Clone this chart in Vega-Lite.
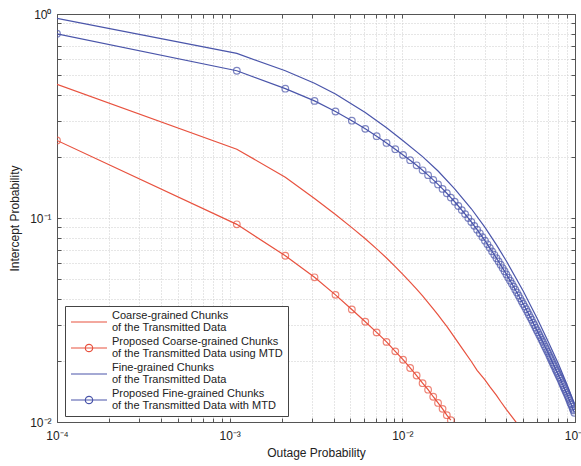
{
  "$schema": "https://vega.github.io/schema/vega-lite/v6.json",
  "width": 518,
  "height": 408,
  "autosize": {"type": "none"},
  "padding": {"left": 57, "top": 14, "right": 6, "bottom": 44},
  "background": "white",
  "config": {
    "font": "Liberation Sans",
    "view": {"stroke": null},
    "axis": {
      "domainColor": "#555555",
      "tickColor": "#555555",
      "labelColor": "#222222",
      "titleColor": "#222222",
      "labelFontSize": 12,
      "titleFontSize": 12,
      "titleFontWeight": "normal",
      "gridColor": "#cccccc",
      "gridDash": [1, 2],
      "gridWidth": 1,
      "labelOverlap": false,
      "labelFlush": false
    }
  },
  "data": {
    "values": [
      {"s": "A", "x": 0.0001, "y": 0.452},
      {"s": "A", "x": 0.0011, "y": 0.2173},
      {"s": "A", "x": 0.0021, "y": 0.1585},
      {"s": "A", "x": 0.0031, "y": 0.1245},
      {"s": "A", "x": 0.0041, "y": 0.104},
      {"s": "A", "x": 0.0051, "y": 0.0897},
      {"s": "A", "x": 0.0061, "y": 0.0791},
      {"s": "A", "x": 0.0071, "y": 0.0706},
      {"s": "A", "x": 0.0081, "y": 0.0637},
      {"s": "A", "x": 0.0091, "y": 0.0578},
      {"s": "A", "x": 0.0101, "y": 0.0528},
      {"s": "A", "x": 0.0111, "y": 0.0485},
      {"s": "A", "x": 0.0121, "y": 0.0448},
      {"s": "A", "x": 0.0131, "y": 0.0415},
      {"s": "A", "x": 0.0141, "y": 0.0385},
      {"s": "A", "x": 0.0151, "y": 0.0359},
      {"s": "A", "x": 0.0161, "y": 0.0335},
      {"s": "A", "x": 0.0171, "y": 0.0313},
      {"s": "A", "x": 0.0181, "y": 0.0294},
      {"s": "A", "x": 0.0191, "y": 0.0276},
      {"s": "A", "x": 0.0201, "y": 0.0259},
      {"s": "A", "x": 0.0221, "y": 0.0231},
      {"s": "A", "x": 0.0251, "y": 0.0198},
      {"s": "A", "x": 0.0271, "y": 0.0179},
      {"s": "A", "x": 0.0301, "y": 0.0161},
      {"s": "A", "x": 0.0321, "y": 0.0149},
      {"s": "A", "x": 0.0351, "y": 0.0135},
      {"s": "A", "x": 0.0371, "y": 0.0126},
      {"s": "A", "x": 0.0401, "y": 0.0115},
      {"s": "A", "x": 0.0421, "y": 0.0109},
      {"s": "A", "x": 0.0451, "y": 0.0101},
      {"s": "A", "x": 0.0461, "y": 0.00984},
      {"s": "B", "x": 0.0001, "y": 0.24},
      {"s": "B", "x": 0.0011, "y": 0.0931},
      {"s": "B", "x": 0.0021, "y": 0.0653},
      {"s": "B", "x": 0.0031, "y": 0.0512},
      {"s": "B", "x": 0.0041, "y": 0.042},
      {"s": "B", "x": 0.0051, "y": 0.0356},
      {"s": "B", "x": 0.0061, "y": 0.031},
      {"s": "B", "x": 0.0071, "y": 0.0275},
      {"s": "B", "x": 0.0081, "y": 0.0247},
      {"s": "B", "x": 0.0091, "y": 0.0222},
      {"s": "B", "x": 0.0101, "y": 0.0202},
      {"s": "B", "x": 0.0111, "y": 0.0184},
      {"s": "B", "x": 0.0121, "y": 0.0169},
      {"s": "B", "x": 0.0131, "y": 0.0155},
      {"s": "B", "x": 0.0141, "y": 0.0144},
      {"s": "B", "x": 0.0151, "y": 0.0133},
      {"s": "B", "x": 0.0161, "y": 0.0124},
      {"s": "B", "x": 0.0171, "y": 0.0116},
      {"s": "B", "x": 0.0181, "y": 0.0108},
      {"s": "B", "x": 0.0191, "y": 0.0102},
      {"s": "C", "x": 0.0001, "y": 0.951},
      {"s": "C", "x": 0.0011, "y": 0.641},
      {"s": "C", "x": 0.0021, "y": 0.527},
      {"s": "C", "x": 0.0031, "y": 0.458},
      {"s": "C", "x": 0.0041, "y": 0.405},
      {"s": "C", "x": 0.0061, "y": 0.329},
      {"s": "C", "x": 0.0081, "y": 0.277},
      {"s": "C", "x": 0.0101, "y": 0.239},
      {"s": "C", "x": 0.0131, "y": 0.2},
      {"s": "C", "x": 0.0161, "y": 0.17},
      {"s": "C", "x": 0.0201, "y": 0.139},
      {"s": "C", "x": 0.0251, "y": 0.111},
      {"s": "C", "x": 0.0301, "y": 0.0899},
      {"s": "C", "x": 0.0351, "y": 0.0738},
      {"s": "C", "x": 0.0401, "y": 0.0614},
      {"s": "C", "x": 0.0501, "y": 0.0439},
      {"s": "C", "x": 0.0601, "y": 0.0324},
      {"s": "C", "x": 0.0701, "y": 0.0247},
      {"s": "C", "x": 0.0801, "y": 0.0193},
      {"s": "C", "x": 0.0901, "y": 0.0152},
      {"s": "C", "x": 0.0951, "y": 0.0135},
      {"s": "C", "x": 0.0991, "y": 0.0123},
      {"s": "D", "x": 0.0001, "y": 0.8},
      {"s": "D", "x": 0.0011, "y": 0.527},
      {"s": "D", "x": 0.0021, "y": 0.4305},
      {"s": "D", "x": 0.0031, "y": 0.375},
      {"s": "D", "x": 0.0041, "y": 0.3327},
      {"s": "D", "x": 0.0051, "y": 0.2999},
      {"s": "D", "x": 0.0061, "y": 0.2735},
      {"s": "D", "x": 0.0071, "y": 0.2518},
      {"s": "D", "x": 0.0081, "y": 0.2333},
      {"s": "D", "x": 0.0091, "y": 0.2175},
      {"s": "D", "x": 0.0101, "y": 0.2038},
      {"s": "D", "x": 0.0111, "y": 0.192},
      {"s": "D", "x": 0.0121, "y": 0.1812},
      {"s": "D", "x": 0.0131, "y": 0.1713},
      {"s": "D", "x": 0.0141, "y": 0.1622},
      {"s": "D", "x": 0.0151, "y": 0.1538},
      {"s": "D", "x": 0.0161, "y": 0.1461},
      {"s": "D", "x": 0.0171, "y": 0.1389},
      {"s": "D", "x": 0.0181, "y": 0.1322},
      {"s": "D", "x": 0.0191, "y": 0.1259},
      {"s": "D", "x": 0.0201, "y": 0.1201},
      {"s": "D", "x": 0.0211, "y": 0.1145},
      {"s": "D", "x": 0.0221, "y": 0.1093},
      {"s": "D", "x": 0.0231, "y": 0.1045},
      {"s": "D", "x": 0.0241, "y": 0.0999},
      {"s": "D", "x": 0.0251, "y": 0.0956},
      {"s": "D", "x": 0.0261, "y": 0.0915},
      {"s": "D", "x": 0.0271, "y": 0.0877},
      {"s": "D", "x": 0.0281, "y": 0.0841},
      {"s": "D", "x": 0.0291, "y": 0.0806},
      {"s": "D", "x": 0.0301, "y": 0.0774},
      {"s": "D", "x": 0.0311, "y": 0.0743},
      {"s": "D", "x": 0.0321, "y": 0.0714},
      {"s": "D", "x": 0.0331, "y": 0.0686},
      {"s": "D", "x": 0.0341, "y": 0.066},
      {"s": "D", "x": 0.0351, "y": 0.0635},
      {"s": "D", "x": 0.0361, "y": 0.0612},
      {"s": "D", "x": 0.0371, "y": 0.059},
      {"s": "D", "x": 0.0381, "y": 0.0568},
      {"s": "D", "x": 0.0391, "y": 0.0548},
      {"s": "D", "x": 0.0401, "y": 0.0529},
      {"s": "D", "x": 0.0411, "y": 0.051},
      {"s": "D", "x": 0.0421, "y": 0.0493},
      {"s": "D", "x": 0.0431, "y": 0.0476},
      {"s": "D", "x": 0.0441, "y": 0.0461},
      {"s": "D", "x": 0.0451, "y": 0.0445},
      {"s": "D", "x": 0.0461, "y": 0.0431},
      {"s": "D", "x": 0.0471, "y": 0.0417},
      {"s": "D", "x": 0.0481, "y": 0.0404},
      {"s": "D", "x": 0.0491, "y": 0.0391},
      {"s": "D", "x": 0.0501, "y": 0.0379},
      {"s": "D", "x": 0.0511, "y": 0.0368},
      {"s": "D", "x": 0.0521, "y": 0.0357},
      {"s": "D", "x": 0.0531, "y": 0.0346},
      {"s": "D", "x": 0.0541, "y": 0.0336},
      {"s": "D", "x": 0.0551, "y": 0.0326},
      {"s": "D", "x": 0.0561, "y": 0.0317},
      {"s": "D", "x": 0.0571, "y": 0.0307},
      {"s": "D", "x": 0.0581, "y": 0.0299},
      {"s": "D", "x": 0.0591, "y": 0.029},
      {"s": "D", "x": 0.0601, "y": 0.0282},
      {"s": "D", "x": 0.0611, "y": 0.0275},
      {"s": "D", "x": 0.0621, "y": 0.0267},
      {"s": "D", "x": 0.0631, "y": 0.026},
      {"s": "D", "x": 0.0641, "y": 0.0253},
      {"s": "D", "x": 0.0651, "y": 0.0247},
      {"s": "D", "x": 0.0661, "y": 0.024},
      {"s": "D", "x": 0.0671, "y": 0.0234},
      {"s": "D", "x": 0.0681, "y": 0.0228},
      {"s": "D", "x": 0.0691, "y": 0.0222},
      {"s": "D", "x": 0.0701, "y": 0.0217},
      {"s": "D", "x": 0.0711, "y": 0.0211},
      {"s": "D", "x": 0.0721, "y": 0.0206},
      {"s": "D", "x": 0.0731, "y": 0.0201},
      {"s": "D", "x": 0.0741, "y": 0.0196},
      {"s": "D", "x": 0.0751, "y": 0.0191},
      {"s": "D", "x": 0.0761, "y": 0.0187},
      {"s": "D", "x": 0.0771, "y": 0.0182},
      {"s": "D", "x": 0.0781, "y": 0.0178},
      {"s": "D", "x": 0.0791, "y": 0.0174},
      {"s": "D", "x": 0.0801, "y": 0.017},
      {"s": "D", "x": 0.0811, "y": 0.0166},
      {"s": "D", "x": 0.0821, "y": 0.0163},
      {"s": "D", "x": 0.0831, "y": 0.0159},
      {"s": "D", "x": 0.0841, "y": 0.0155},
      {"s": "D", "x": 0.0851, "y": 0.0152},
      {"s": "D", "x": 0.0861, "y": 0.0148},
      {"s": "D", "x": 0.0871, "y": 0.0145},
      {"s": "D", "x": 0.0881, "y": 0.0142},
      {"s": "D", "x": 0.0891, "y": 0.0139},
      {"s": "D", "x": 0.0901, "y": 0.0136},
      {"s": "D", "x": 0.0911, "y": 0.0133},
      {"s": "D", "x": 0.0921, "y": 0.013},
      {"s": "D", "x": 0.0931, "y": 0.0127},
      {"s": "D", "x": 0.0941, "y": 0.0124},
      {"s": "D", "x": 0.0951, "y": 0.0122},
      {"s": "D", "x": 0.0961, "y": 0.0119},
      {"s": "D", "x": 0.0971, "y": 0.0116},
      {"s": "D", "x": 0.0981, "y": 0.0114},
      {"s": "D", "x": 0.0991, "y": 0.0111}
    ]
  },
  "resolve": {"axis": {"x": "independent", "y": "independent"}},
  "layer": [
    {
      "mark": {"type": "line", "strokeWidth": 1.2, "clip": true},
      "encoding": {
        "x": {
          "field": "x", "type": "quantitative",
          "scale": {"type": "log", "domain": [0.0001, 0.1], "nice": false},
          "axis": {
            "orient": "bottom",
            "title": "Outage Probability",
            "titlePadding": 6,
            "values": [0.0001,0.0002,0.0003,0.0004,0.0005,0.0006,0.0007,0.0008,0.0009,0.001,0.002,0.003,0.004,0.005,0.006,0.007,0.008,0.009,0.01,0.02,0.03,0.04,0.05,0.06,0.07,0.08,0.09,0.1],
            "labelExpr": "abs(log(datum.value)/LN10 - round(log(datum.value)/LN10)) < 0.001 ? '10' + (round(log(datum.value)/LN10) < 0 ? '⁻' : '') + ['⁰','¹','²','³','⁴'][abs(round(log(datum.value)/LN10))] : ''",
            "grid": true,
            "tickSize": -4,
            "labelPadding": 12
          }
        },
        "y": {
          "field": "y", "type": "quantitative",
          "scale": {"type": "log", "domain": [0.01, 1], "nice": false},
          "axis": {
            "orient": "left",
            "title": "Intercept Probability",
            "titlePadding": 8,
            "values": [0.01,0.02,0.03,0.04,0.05,0.06,0.07,0.08,0.09,0.1,0.2,0.3,0.4,0.5,0.6,0.7,0.8,0.9,1],
            "labelExpr": "abs(log(datum.value)/LN10 - round(log(datum.value)/LN10)) < 0.001 ? '10' + (round(log(datum.value)/LN10) < 0 ? '⁻' : '') + ['⁰','¹','²','³','⁴'][abs(round(log(datum.value)/LN10))] : ''",
            "grid": true,
            "tickSize": -4,
            "labelPadding": 10
          }
        },
        "color": {
          "field": "s", "type": "nominal",
          "scale": {"domain": ["A", "B", "C", "D"], "range": ["#e8523f", "#e8523f", "#4a55aa", "#4a55aa"]},
          "legend": {
            "orient": "none",
            "legendX": 8,
            "legendY": 292,
            "title": null,
            "fillColor": "white",
            "strokeColor": "#444444",
            "padding": 5,
            "labelFontSize": 11,
            "labelColor": "#222222",
            "labelLimit": 400,
            "labelOffset": 20,
            "rowPadding": 3,
            "symbolSize": 400,
            "symbolStrokeWidth": 1.2,
            "symbolFillColor": "transparent",
            "labelExpr": "datum.label == 'A' ? ['Coarse-grained Chunks', '\u00a0of the Transmitted Data'] : datum.label == 'B' ? ['Proposed Coarse-grained Chunks', '\u00a0of the Transmitted Data using MTD'] : datum.label == 'C' ? ['Fine-grained Chunks', '\u00a0of the Transmitted Data'] : ['Proposed Fine-grained Chunks', 'of the Transmitted Data with MTD']",
            "encode": {
              "labels": {
                "update": {
                  "lineHeight": {"value": 12},
                  "dy": {"value": -6}
                }
              },
              "symbols": {
                "update": {
                  "shape": {"signal": "datum.value == 'B' || datum.value == 'D' ? 'M-1,0H2.6M1.17,0A0.37,0.37,0,1,1,0.43,0A0.37,0.37,0,1,1,1.17,0' : 'M-1,0H2.6'"},
                  "fill": {"value": "transparent"}
                }
              }
            }
          }
        }
      }
    },
    {
      "transform": [{"filter": "datum.s == 'B' || datum.s == 'D'"}],
      "mark": {"type": "point", "shape": "circle", "filled": false, "size": 44, "strokeWidth": 1.2, "clip": true},
      "encoding": {
        "x": {
          "field": "x", "type": "quantitative",
          "axis": {
            "orient": "top", "title": null, "labels": false, "grid": false, "tickSize": -4,
            "values": [0.0001,0.0002,0.0003,0.0004,0.0005,0.0006,0.0007,0.0008,0.0009,0.001,0.002,0.003,0.004,0.005,0.006,0.007,0.008,0.009,0.01,0.02,0.03,0.04,0.05,0.06,0.07,0.08,0.09,0.1]
          }
        },
        "y": {
          "field": "y", "type": "quantitative",
          "axis": {
            "orient": "right", "title": null, "labels": false, "grid": false, "tickSize": -4,
            "values": [0.01,0.02,0.03,0.04,0.05,0.06,0.07,0.08,0.09,0.1,0.2,0.3,0.4,0.5,0.6,0.7,0.8,0.9,1]
          }
        },
        "color": {"field": "s", "type": "nominal"}
      }
    }
  ]
}
